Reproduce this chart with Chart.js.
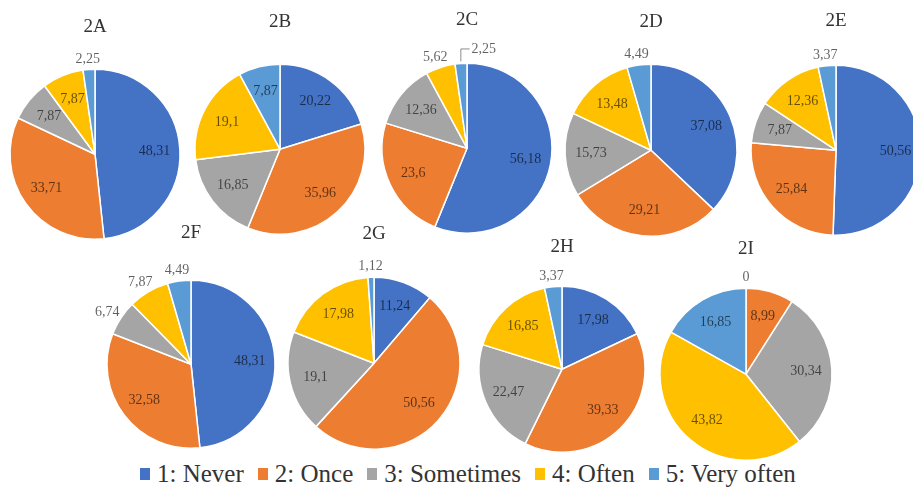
<!DOCTYPE html>
<html>
<head>
<meta charset="utf-8">
<script src="https://cdn.jsdelivr.net/npm/chart.js@4.4.1/dist/chart.umd.min.js"></script>
<style>
  html, body { margin: 0; padding: 0; background: #fff; }
  #wrap { position: relative; width: 913px; height: 490px; overflow: hidden; background: #fff; }
  #wrap canvas { position: absolute; }
  #legend {
    position: absolute; left: 140px; top: 459px; height: 30px;
    display: flex; align-items: center; white-space: nowrap;
    font-family: 'Liberation Serif', 'Times New Roman', serif; font-size: 25px; line-height: 30px; color: #333;
  }
  #legend .item { display: flex; align-items: center; margin-right: 14px; }
  #legend .box { width: 10px; height: 12px; margin-right: 7px; }
</style>
</head>
<body>
<div id="wrap">
  <div id="legend"></div>
</div>
<script>
// Answer categories shared by every panel
const categories = ['1: Never', '2: Once', '3: Sometimes', '4: Often', '5: Very often'];
const colors = ['#4472C4', '#ED7D31', '#A5A5A5', '#FFC000', '#5B9BD5'];

// Panel names
const panels = ['2A', '2B', '2C', '2D', '2E', '2F', '2G', '2H', '2I'];

// Percentages per panel, in category order
const v2A = [48.31, 33.71, 7.87, 7.87, 2.25];
const v2B = [20.22, 35.96, 16.85, 19.1, 7.87];
const v2C = [56.18, 23.6, 12.36, 5.62, 2.25];
const v2D = [37.08, 29.21, 15.73, 13.48, 4.49];
const v2E = [50.56, 25.84, 7.87, 12.36, 3.37];
const v2F = [48.31, 32.58, 6.74, 7.87, 4.49];
const v2G = [11.24, 50.56, 19.1, 17.98, 1.12];
const v2H = [17.98, 39.33, 22.47, 16.85, 3.37];
const v2I = [0, 8.99, 30.34, 43.82, 16.85];

const values = { '2A': v2A, '2B': v2B, '2C': v2C, '2D': v2D, '2E': v2E, '2F': v2F, '2G': v2G, '2H': v2H, '2I': v2I };

// Placement of each pie: centre, radius, gap between title and pie top
const layout = {
  '2A': { cx: 95,  cy: 152, r: 85, gap: 42 },
  '2B': { cx: 280, cy: 147, r: 85, gap: 42 },
  '2C': { cx: 467, cy: 146, r: 85, gap: 43 },
  '2D': { cx: 651, cy: 148, r: 86, gap: 42 },
  '2E': { cx: 836, cy: 148, r: 85, gap: 44 },
  '2F': { cx: 191, cy: 362, r: 84, gap: 47 },
  '2G': { cx: 374, cy: 361, r: 86, gap: 43 },
  '2H': { cx: 562, cy: 367, r: 83, gap: 39 },
  '2I': { cx: 746, cy: 372, r: 86, gap: 39 }
};

// Slices whose value label sits outside the pie (index -> options)
const outsideLabels = {
  '2A': { 4: {} },
  '2B': {},
  '2C': { 3: {}, 4: { shift: 24, leader: true } },
  '2D': { 4: {} },
  '2E': { 4: {} },
  '2F': { 2: {}, 3: {}, 4: {} },
  '2G': { 4: {} },
  '2H': { 4: {} },
  '2I': { 0: {} }
};

const SERIF = "'Liberation Serif', 'Times New Roman', serif";
const LABEL_FONT = "14px " + SERIF;
const TITLE_SIZE = 19;
const TITLE_LH = 1.2;
const MARGIN = 40;

function fmt(v) { return String(v).replace('.', ','); }

// Draws the value of every slice, inside or just outside the arc
const valueLabels = {
  id: 'valueLabels',
  afterDatasetsDraw(chart, args, opts) {
    const ctx = chart.ctx;
    const meta = chart.getDatasetMeta(0);
    const data = chart.data.datasets[0].data;
    const outside = opts.outside || {};
    ctx.save();
    ctx.font = LABEL_FONT;
    ctx.textAlign = 'center';
    ctx.textBaseline = 'middle';
    meta.data.forEach((arc, i) => {
      const p = arc.getProps(['x', 'y', 'startAngle', 'endAngle', 'outerRadius'], true);
      const mid = (p.startAngle + p.endAngle) / 2;
      const c = Math.cos(mid), s = Math.sin(mid);
      const text = fmt(data[i]);
      if (outside[i]) {
        const o = outside[i];
        const w = ctx.measureText(text).width;
        const h = 13;
        const d = p.outerRadius + 4;
        let tx = p.x + c * d + c * w / 2;
        let ty = p.y + s * d + s * h / 2;
        ctx.fillStyle = 'rgba(0,0,0,0.62)';
        if (o.shift) {
          const ex = p.x + c * (p.outerRadius + 2), ey = p.y + s * (p.outerRadius + 2);
          tx += o.shift;
          ty -= 4;
          if (o.leader) {
            ctx.strokeStyle = 'rgba(0,0,0,0.45)';
            ctx.lineWidth = 1;
            ctx.beginPath();
            ctx.moveTo(ex, ey);
            ctx.lineTo(ex, ty);
            ctx.lineTo(tx - w / 2 - 2, ty);
            ctx.stroke();
          }
        }
        ctx.fillText(text, tx, ty);
      } else {
        const d = p.outerRadius * 0.7;
        ctx.fillStyle = 'rgba(0,0,0,0.6)';
        ctx.fillText(text, p.x + c * d, p.y + s * d);
      }
    });
    ctx.restore();
  }
};

const wrap = document.getElementById('wrap');

panels.forEach(name => {
  const L = layout[name];
  const titleH = TITLE_SIZE * TITLE_LH;
  const padTitle = L.gap - titleH / 2;
  const padBottom = 4;
  const w = 2 * L.r + 2 * MARGIN;
  const h = titleH + padTitle + 2 * L.r + padBottom;
  const canvas = document.createElement('canvas');
  canvas.width = w;
  canvas.height = h;
  canvas.style.width = w + 'px';
  canvas.style.height = h + 'px';
  canvas.style.left = (L.cx - L.r - MARGIN) + 'px';
  canvas.style.top = (L.cy - L.r - L.gap - titleH / 2 + 2) + 'px';
  wrap.appendChild(canvas);

  new Chart(canvas, {
    type: 'pie',
    data: {
      labels: categories,
      datasets: [{
        data: values[name],
        backgroundColor: colors,
        borderColor: '#ffffff',
        borderWidth: 1.5
      }]
    },
    options: {
      responsive: false,
      animation: false,
      radius: L.r,
      layout: { padding: { left: MARGIN, right: MARGIN, top: 0, bottom: padBottom } },
      plugins: {
        legend: { display: false },
        tooltip: { enabled: false },
        title: {
          display: true,
          text: name,
          color: '#333',
          font: { family: SERIF, size: TITLE_SIZE, weight: 'normal', lineHeight: TITLE_LH },
          padding: { top: 0, bottom: padTitle }
        },
        valueLabels: { outside: outsideLabels[name] }
      }
    },
    plugins: [valueLabels]
  });
});

// Shared legend under the pies
const legend = document.getElementById('legend');
categories.forEach((cat, i) => {
  const item = document.createElement('div');
  item.className = 'item';
  const box = document.createElement('span');
  box.className = 'box';
  box.style.background = colors[i];
  const label = document.createElement('span');
  label.textContent = cat;
  item.appendChild(box);
  item.appendChild(label);
  legend.appendChild(item);
});
</script>
</body>
</html>
